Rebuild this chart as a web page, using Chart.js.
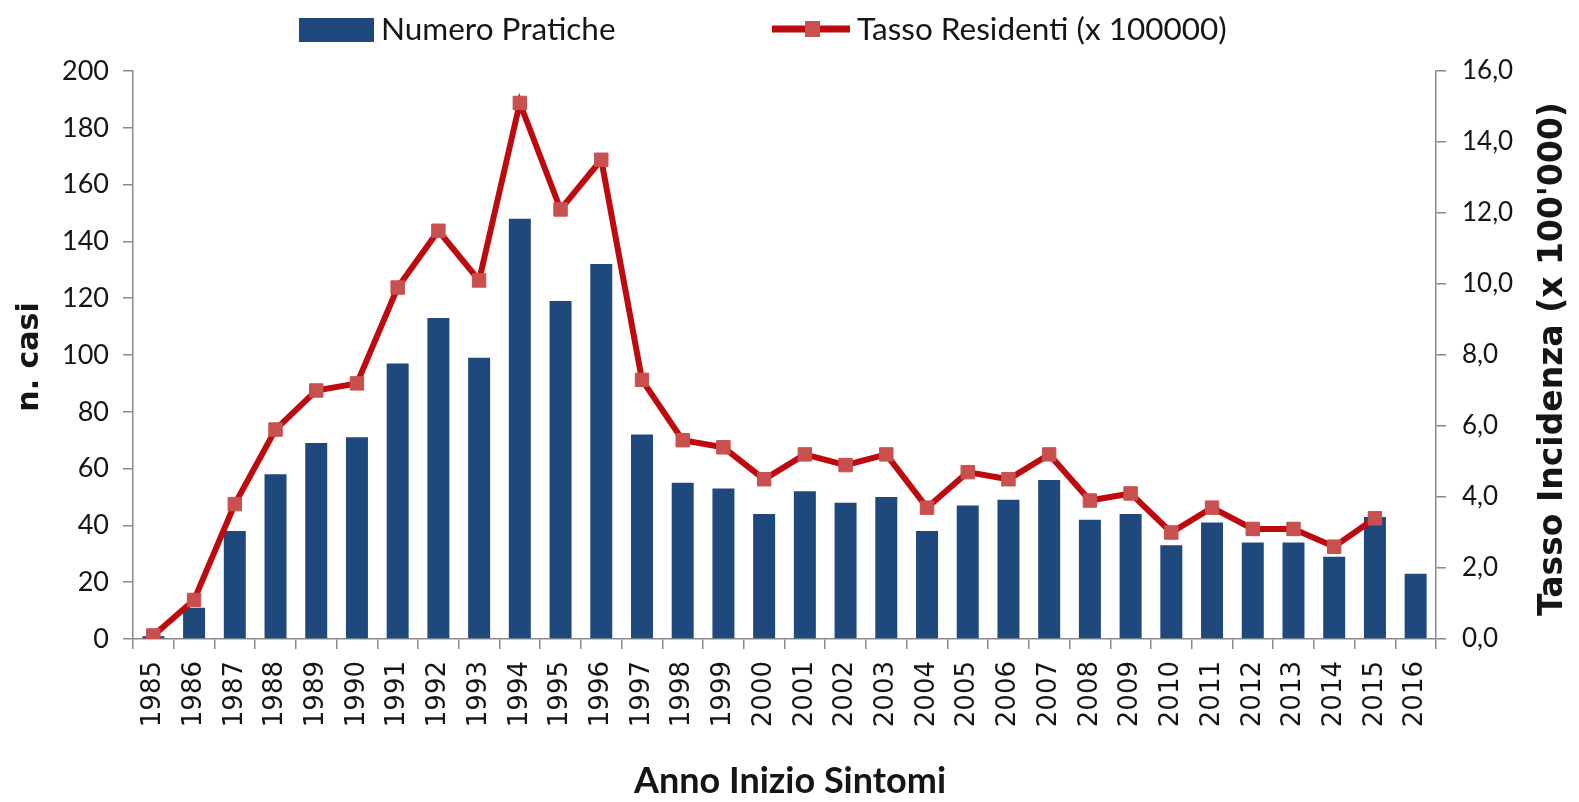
<!DOCTYPE html>
<html>
<head>
<meta charset="utf-8">
<script src="https://cdn.jsdelivr.net/npm/chart.js@4/dist/chart.umd.min.js"></script>
<style>
    html, body { margin: 0; padding: 0; background: #ffffff; }
    canvas { display: block; }
</style>
</head>
<body>
<canvas id="chart" width="1579" height="802"></canvas>
<script>
const years = [
    '1985', '1986', '1987', '1988', '1989', '1990', '1991', '1992', '1993', '1994', '1995',
    '1996', '1997', '1998', '1999', '2000', '2001', '2002', '2003', '2004', '2005', '2006',
    '2007', '2008', '2009', '2010', '2011', '2012', '2013', '2014', '2015', '2016',
];

const numeroPratiche = [
    1, 11, 38, 58, 69, 71, 97, 113, 99, 148, 119,
    132, 72, 55, 53, 44, 52, 48, 50, 38, 47, 49,
    56, 42, 44, 33, 41, 34, 34, 29, 43, 23,
];

const tassoResidenti = [
    0.1, 1.1, 3.8, 5.9, 7.0, 7.2, 9.9, 11.5, 10.1, 15.1, 12.1,
    13.5, 7.3, 5.6, 5.4, 4.5, 5.2, 4.9, 5.2, 3.7, 4.7, 4.5,
    5.2, 3.9, 4.1, 3.0, 3.7, 3.1, 3.1, 2.6, 3.4, null,
];

const leftTicksMax = 200;
const rightTicksMax = 16;

const BLUE = '#1F497D';
const DARK_RED = '#BE0A0E';
const MARKER = '#C8504E';
const AXIS = '#8a8a8a';
const TEXT = '#151515';

const titlesAndLegend = {
    id: 'titlesAndLegend',
    afterDraw(chart) {
        const ctx = chart.ctx;
        ctx.save();

        // legend
        const [bars, line] = chart.data.datasets;
        ctx.fillStyle = bars.backgroundColor;
        ctx.fillRect(299, 18, 75, 24);
        ctx.strokeStyle = line.borderColor;
        ctx.lineWidth = 7;
        ctx.beginPath();
        ctx.moveTo(772, 29);
        ctx.lineTo(850, 29);
        ctx.stroke();
        ctx.fillStyle = line.pointBackgroundColor;
        ctx.fillRect(805, 21, 15, 16);

        ctx.fillStyle = TEXT;
        ctx.font = '31.5px Lato';
        ctx.textBaseline = 'middle';
        ctx.textAlign = 'left';
        ctx.fillText(bars.label, 381, 30);
        ctx.fillText(line.label, 857, 30);

        // axis titles
        ctx.textAlign = 'center';
        ctx.font = 'bold 30px "DejaVu Sans"';
        ctx.save();
        ctx.translate(30, 357);
        ctx.rotate(-Math.PI / 2);
        ctx.fillText('n. casi', 0, 0);
        ctx.restore();

        ctx.font = 'bold 33px "DejaVu Sans"';
        ctx.save();
        ctx.translate(1553, 359);
        ctx.rotate(-Math.PI / 2);
        ctx.fillText('Tasso Incidenza (x 100\'000)', 0, 0);
        ctx.restore();

        ctx.font = 'bold 36px Lato';
        ctx.fillText('Anno Inizio Sintomi', 790, 781);
        ctx.restore();
    },
};

function axisGrid() {
    return {
        drawOnChartArea: false,
        drawTicks: true,
        tickLength: 10,
        color: AXIS,
        lineWidth: 1.5,
    };
}

new Chart(document.getElementById('chart'), {
    type: 'bar',
    data: {
        labels: years,
        datasets: [
            {
                type: 'bar',
                label: 'Numero Pratiche',
                data: numeroPratiche,
                backgroundColor: BLUE,
                barPercentage: 0.54,
                categoryPercentage: 1,
                yAxisID: 'y',
                order: 1,
            },
            {
                type: 'line',
                label: 'Tasso Residenti (x 100000)',
                data: tassoResidenti,
                borderColor: DARK_RED,
                borderWidth: 6,
                tension: 0,
                pointStyle: 'rect',
                pointRadius: 9.5,
                pointBackgroundColor: MARKER,
                pointBorderColor: MARKER,
                pointBorderWidth: 1,
                yAxisID: 'y1',
                order: 0,
            },
        ],
    },
    options: {
        responsive: false,
        animation: false,
        layout: { padding: { top: 71, left: 0, right: 0, bottom: 0 } },
        plugins: {
            legend: { display: false },
            tooltip: { enabled: false },
        },
        scales: {
            x: {
                grid: { ...axisGrid(), offset: true },
                border: { color: AXIS, width: 1.5 },
                ticks: {
                    color: TEXT,
                    font: { family: 'DejaVu Sans', size: 26 },
                    minRotation: 90,
                    maxRotation: 90,
                    autoSkip: false,
                    padding: 12,
                },
                afterFit: (scale) => { scale.height = 163; },
            },
            y: {
                position: 'left',
                min: 0,
                max: leftTicksMax,
                grid: axisGrid(),
                border: { color: AXIS, width: 1.5 },
                ticks: {
                    stepSize: 20,
                    color: TEXT,
                    font: { family: 'Lato', size: 27 },
                    padding: 14,
                },
                afterFit: (scale) => { scale.width = 133; },
            },
            y1: {
                position: 'right',
                min: 0,
                max: rightTicksMax,
                grid: axisGrid(),
                border: { color: AXIS, width: 1.5 },
                ticks: {
                    stepSize: 2,
                    color: TEXT,
                    font: { family: 'Lato', size: 26 },
                    padding: 16,
                    callback: (value) => value.toFixed(1).replace('.', ','),
                },
                afterFit: (scale) => { scale.width = 143; },
            },
        },
    },
    plugins: [titlesAndLegend],
});
</script>
</body>
</html>
